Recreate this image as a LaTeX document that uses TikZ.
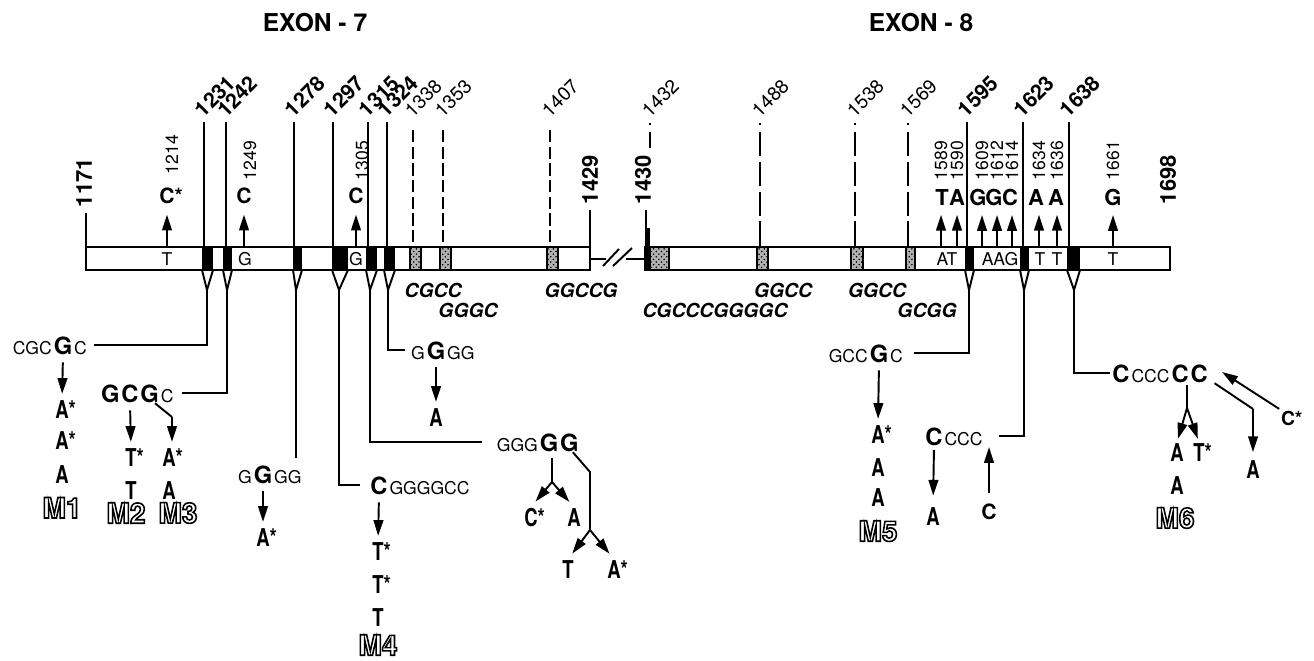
\documentclass[tikz,border=0pt]{standalone}
\usepackage{fontspec}
\setmainfont{TeX Gyre Heros}
\newfontfamily\narrowfont[FakeStretch=0.75]{TeX Gyre Heros}
\newcommand\hollow[1]{\special{pdf:literal direct 1 Tr 0.9 w}#1\special{pdf:literal direct 0 Tr}}
\usetikzlibrary{arrows.meta, positioning, patterns}
\tikzset{
  exonhead/.style={font=\fontsize{14}{16}\selectfont\bfseries},
  posbold/.style={rotate=45, anchor=south west, inner sep=0.5pt,
    font=\fontsize{12}{12}\selectfont\bfseries},
  poslight/.style={rotate=45, anchor=south west, inner sep=0.5pt,
    font=\fontsize{11}{11}\selectfont},
  endpos/.style={rotate=90, anchor=west, inner sep=0.5pt,
    font=\fontsize{12.5}{12.5}\selectfont\bfseries},
  subpos/.style={rotate=90, anchor=west, inner sep=0.5pt,
    font=\fontsize{10}{10}\selectfont},
  inbar/.style={inner sep=0pt, font=\fontsize{10}{10}\selectfont},
  subst/.style={inner sep=0.5pt, font=\fontsize{12}{12}\selectfont\bfseries},
  substbig/.style={inner sep=0.5pt, font=\fontsize{12.5}{12.5}\selectfont\bfseries},
  cpgseq/.style={inner sep=0pt, font=\fontsize{11}{11}\selectfont\bfseries\itshape},
  seqsm/.style={inner sep=0pt, font=\fontsize{10}{10}\selectfont},
  seqbig/.style={inner sep=0pt, font=\fontsize{13.5}{13.5}\selectfont\bfseries},
  mutant/.style={inner sep=0.5pt, font=\narrowfont\fontsize{14}{14}\selectfont\bfseries},
  mlabel/.style={inner sep=0.5pt, font=\fontsize{16}{16}\selectfont\bfseries},
  arr/.style={-{Triangle[length=9pt,width=5.5pt]}},
  tarr/.style={arr, shorten <=4pt, shorten >=3pt},
  cpgdash/.style={dash pattern=on 7pt off 2.5pt},
  cpgdot/.style={dash pattern=on 1pt off 4pt on 14pt off 3pt on 14pt off 3pt on 14pt off 3pt on 14pt off 3pt},
  stipple/.style={draw, line width=0.8pt, preaction={fill=black!30}, pattern=crosshatch dots},
}

\begin{document}
\begin{tikzpicture}[x=0.02cm, y=-0.02cm, line width=1.1pt]
\fill[white] (0,0) rectangle (1314,660);
\useasboundingbox (0,0) rectangle (1314,660);

% Titles
\node (ex7) [exonhead] at (315,23) {EXON - 7};
\node (ex8) [exonhead] at (921,23) {EXON - 8};

% Exon bars and break
\draw (86,247) rectangle (590,270);
\draw (645,247) rectangle (1170,270);
\draw (590,259) -- (606,259);
\draw (603,266) -- (619,249);
\draw (613,266) -- (632,248);
\draw (626,259) -- (645,259);

% Exon ends
\node (p1171) [endpos] at (84,209) {1171};
\node (p1429) [endpos] at (590,206) {1429};
\node (p1430) [endpos] at (643,206) {1430};
\node (p1698) [endpos] at (1168,206) {1698};
\draw (86,213) -- (86,247);
\draw (590,210) -- (590,247);
\draw[line width=1.5pt] (646,210) -- (646,247);
\draw[line width=3pt] (647.5,228) -- (647.5,247);
\fill (645,247) rectangle (650,270);

% Solid sites
\foreach \pos/\px/\xa/\xb/\xt in {1231/204/202/213/207, 1242/226/223/232/227,
    1278/294/293/302/296, 1297/333/332/348/339, 1315/368/366/377/370,
    1324/387/384/395/388, 1595/967/965/974/969, 1623/1023/1020/1029/1024,
    1638/1069/1067/1080/1074}{
  \draw (\px,122) -- (\px,247);
  \fill (\xa,247) rectangle (\xb,270);
  \draw (\xa,270) -- (\xt,290) -- (\xb,270);
  \coordinate (tip\pos) at (\xt,290);
  \node (lbl\pos) [posbold] at (\px,121) {\pos};
}

% Dashed sites
\foreach \pos/\px/\xa/\xb in {1338/413/410/421, 1353/443/440/451, 1407/550/547/558}{
  \draw[cpgdash] (\px,130) -- (\px,247);
  \draw[stipple] (\xa,247) rectangle (\xb,270);
  \node (lbl\pos) [poslight] at (\px,121) {\pos};
}
\foreach \pos/\px/\xa/\xb in {1488/760/757/768, 1538/855/851/863, 1569/908/906/915}{
  \draw[cpgdot] (\px,123) -- (\px,247);
  \draw[stipple] (\xa,247) rectangle (\xb,270);
  \node (lbl\pos) [poslight] at (\px,121) {\pos};
}
\draw[cpgdot] (650,123) -- (650,148);
\draw[stipple] (650,247) rectangle (669,270);
\node (lbl1432) [poslight] at (650,121) {1432};

% CpG sequences
\node (cpg1) [cpgseq] at (433,290) {CGCC};
\node (cpg2) [cpgseq] at (468,310) {GGGC};
\node (cpg3) [cpgseq] at (581,290) {GGCCG};
\node (cpg4) [cpgseq] at (715,310) {CGCCCGGGGC};
\node (cpg5) [cpgseq] at (783,290) {GGCC};
\node (cpg6) [cpgseq] at (877,290) {GGCC};
\node (cpg7) [cpgseq] at (927,310) {GCGG};

% Exon 7 substitutions
\node (b1214) [inbar] at (167,259) {T};
\node (s1214) [subst] at (167,196) {C\rlap{*}};
\node (n1214) [subpos] at (172,176) {1214};
\draw[arr, shorten <=3pt, shorten >=5pt] (b1214.north) -- (s1214.south);
\node (b1249) [inbar] at (245,259) {G};
\node (s1249) [subst] at (244,196) {C};
\node (n1249) [subpos] at (250,182) {1249};
\draw[arr, shorten >=5pt] (s1249.south |- 0,247) -- (s1249.south);
\node (b1305) [inbar] at (356,259) {G};
\node (s1305) [subst] at (356,196) {C};
\node (n1305) [subpos] at (362,182) {1305};
\draw[arr, shorten <=3pt, shorten >=5pt] (b1305.north) -- (s1305.south);

% Exon 8 substitutions
\node (bAT) [inbar] at (947,259) {AT};
\node (bAAG) [inbar] at (1000,259) {AAG};
\node (bT1) [inbar] at (1040,259) {T};
\node (bT2) [inbar] at (1057,259) {T};
\node (bT3) [inbar] at (1113,259) {T};
\foreach \pos/\px/\ax/\l in {1589/942/941/T, 1590/957/957/A, 1609/978/982/G,
    1612/994/997/G, 1614/1010/1012/C, 1634/1036/1039/A, 1636/1056/1057/A,
    1661/1113/1113/G}{
  \node (s\pos) [substbig] at (\px,197) {\l};
  \node (n\pos) [subpos] at (\ax,182) {\pos};
  \draw[arr, shorten >=4.5pt] (\ax,247) -- (\ax,0 |- s\pos.south);
}

% M1 (1231)
\node (m1G) [seqbig, anchor=base] at (63,354) {G};
\node (m1l) [seqsm, anchor=base east] at (m1G.base west) {CGC};
\node (m1r) [seqsm, anchor=base west] at (m1G.base east) {C};
\draw ([xshift=3.5pt]m1r.east |- m1G.center) -| (tip1231);
\node (m1a) [mutant] at (62,410) {A\rlap{*}};
\node (m1b) [mutant, below=5pt of m1a] {A\rlap{*}};
\node (m1c) [mutant, below=7pt of m1b] {A};
\node (m1lab) [mlabel, below=6pt of m1c] {\hollow{M1}};
\draw[tarr] (m1G.south) -- (m1a.north);

% M2 and M3 (1242)
\node (m2C) [seqbig, anchor=base] at (130,402) {C};
\node (m2l) [seqbig, anchor=base east] at (m2C.base west) {G};
\node (m2G) [seqbig, anchor=base west] at (m2C.base east) {G};
\node (m2r) [seqsm, anchor=base west] at (m2G.base east) {C};
\draw ([xshift=4pt]m2r.east |- m2G.center) -| (tip1242);
\node (m2a) [mutant] at (131,458) {T\rlap{*}};
\node (m2b) [mutant, below=6pt of m2a] {T};
\node (m2lab) [mlabel] at (126,513) {\hollow{M2}};
\draw[tarr] (m2C.south) -- (m2a.north);
\node (m3a) [mutant] at (169,458) {A\rlap{*}};
\node (m3b) [mutant, below=6pt of m3a] {A};
\node (m3lab) [mlabel] at (178,513) {\hollow{M3}};
\coordinate (m3k) at (172,417);
\draw ([xshift=3pt]m2G.south) -- (m3k);
\draw[arr, shorten >=3pt] (m3k) -- (m3k |- m3a.north);

% 1278
\node (t3G) [seqbig, anchor=base] at (263,483) {G};
\node (t3l) [seqsm, anchor=base east] at (t3G.base west) {G};
\node (t3r) [seqsm, anchor=base west] at (t3G.base east) {GG};
\coordinate (e1278) at (296,458);
\draw (tip1278) -- (e1278);
\node (t3a) [mutant] at (263,538) {A\rlap{*}};
\draw[tarr] (t3G.south) -- (t3a.north);

% M4 (1297)
\node (m4C) [seqbig, anchor=base] at (379,494) {C};
\node (m4r) [seqsm, anchor=base west] at (m4C.base east) {GGGGCC};
\draw (tip1297) |- ([xshift=-5.5pt]m4C.west);
\node (m4a) [mutant] at (378,552) {T\rlap{*}};
\node (m4b) [mutant, below=6pt of m4a] {T\rlap{*}};
\node (m4c) [mutant, below=6.5pt of m4b] {T};
\node (m4lab) [mlabel] at (378,645) {\hollow{M4}};
\draw[tarr] (m4C.south) -- (m4a.north);

% 1324
\node (t6G) [seqbig, anchor=base] at (436,359) {G};
\node (t6l) [seqsm, anchor=base east] at (t6G.base west) {G};
\node (t6r) [seqsm, anchor=base west] at (t6G.base east) {GG};
\draw (tip1324) |- ([xshift=-3pt]t6l.west |- t6G.center);
\node (t6a) [mutant] at (436,418) {A};
\draw[tarr] (t6G.south) -- (t6a.north);

% 1315
\node (t5G4) [seqbig, anchor=base] at (549,451) {G};
\node (t5G5) [seqbig, anchor=base west] at (t5G4.base east) {G};
\node (t5l) [seqsm, anchor=base east] at (t5G4.base west) {GGG};
\draw (tip1315) |- ([xshift=-8pt]t5l.west |- t5G4.center);
\coordinate (t5k1) at (552,482);
\draw[shorten <=3pt] (t5k1 |- t5G4.south) -- (t5k1);
\node (t5a) [mutant] at (531,518) {C\rlap{*}};
\node (t5b) [mutant] at (574,518) {A};
\draw[arr, shorten >=4pt] (t5k1) -- (t5a.north);
\draw[arr, shorten >=4pt] (t5k1) -- (t5b.north);
\coordinate (t5k2) at (590,472);
\coordinate (t5k3) at (590,530);
\draw ([xshift=2pt]t5G5.south) -- (t5k2) -- (t5k3);
\node (t5c) [mutant] at (568,570) {T};
\node (t5d) [mutant] at (614,570) {A\rlap{*}};
\draw[arr, shorten >=4pt] (t5k3) -- (t5c.north);
\draw[arr, shorten >=4pt] (t5k3) -- (t5d.north);

% M5 (1595)
\node (m5G) [seqbig, anchor=base] at (879,362) {G};
\node (m5l) [seqsm, anchor=base east] at (m5G.base west) {GCC};
\node (m5r) [seqsm, anchor=base west] at (m5G.base east) {C};
\draw ([xshift=6pt]m5r.east |- m5G.center) -| (tip1595);
\node (m5a) [mutant] at (878,435) {A\rlap{*}};
\node (m5b) [mutant, below=6pt of m5a] {A};
\node (m5c) [mutant, below=5pt of m5b] {A};
\node (m5lab) [mlabel, below=6pt of m5c] {\hollow{M5}};
\draw[tarr] (m5G.south) -- (m5a.north);

% 1623
\node (t8C) [seqbig, anchor=base] at (934,445) {C};
\node (t8r) [seqsm, anchor=base west] at (t8C.base east) {CCC};
\draw ([xshift=9pt]t8r.east |- t8C.center) -| (tip1623);
\node (t8a) [mutant] at (933,517) {A};
\draw[arr, shorten <=2pt, shorten >=6pt] (t8C.south) -- (t8a.north);
\node (t8b) [subst] at (989,512) {C};
\coordinate (t8ins) at (989,447);
\draw[arr, shorten <=5pt] (t8b.north) -- (t8ins);

% M6 (1638)
\node (m6C1) [seqbig, anchor=base] at (1121,382) {C};
\node (m6m) [seqsm, anchor=base west] at (m6C1.base east) {CCC};
\node (m6C5) [seqbig, anchor=base west] at (m6m.base east) {C};
\node (m6C6) [seqbig, anchor=base west] at (m6C5.base east) {C};
\draw (tip1638) |- ([xshift=-1pt]m6C1.west);
\coordinate (m6k1) at (1187,408);
\draw[shorten <=1pt] (m6k1 |- m6C5.south) -- (m6k1);
\node (m6a) [mutant] at (1177,453) {A};
\node (m6b) [mutant] at (1199,453) {T\rlap{*}};
\node (m6c) [mutant, below=6pt of m6a] {A};
\node (m6lab) [mlabel] at (1175,518) {\hollow{M6}};
\draw[arr, shorten >=2pt] (m6k1) -- (m6a.north);
\draw[arr, shorten >=2pt] (m6k1) -- (m6b.north);
\coordinate (m6k2) at (1253,409);
\draw ([xshift=3.4pt]m6C6.south east) -- (m6k2);
\node (m6d) [mutant] at (1253,470) {A};
\draw[arr, shorten >=4pt] (m6k2) -- (m6d.north);
\node (m6e) [subst, font=\fontsize{11}{11}\selectfont\bfseries] at (1288,418) {C\rlap{*}};
\coordinate (m6ins) at (1222,372);
\draw[arr] (m6e.north west) -- (m6ins);

\end{tikzpicture}
\end{document}
